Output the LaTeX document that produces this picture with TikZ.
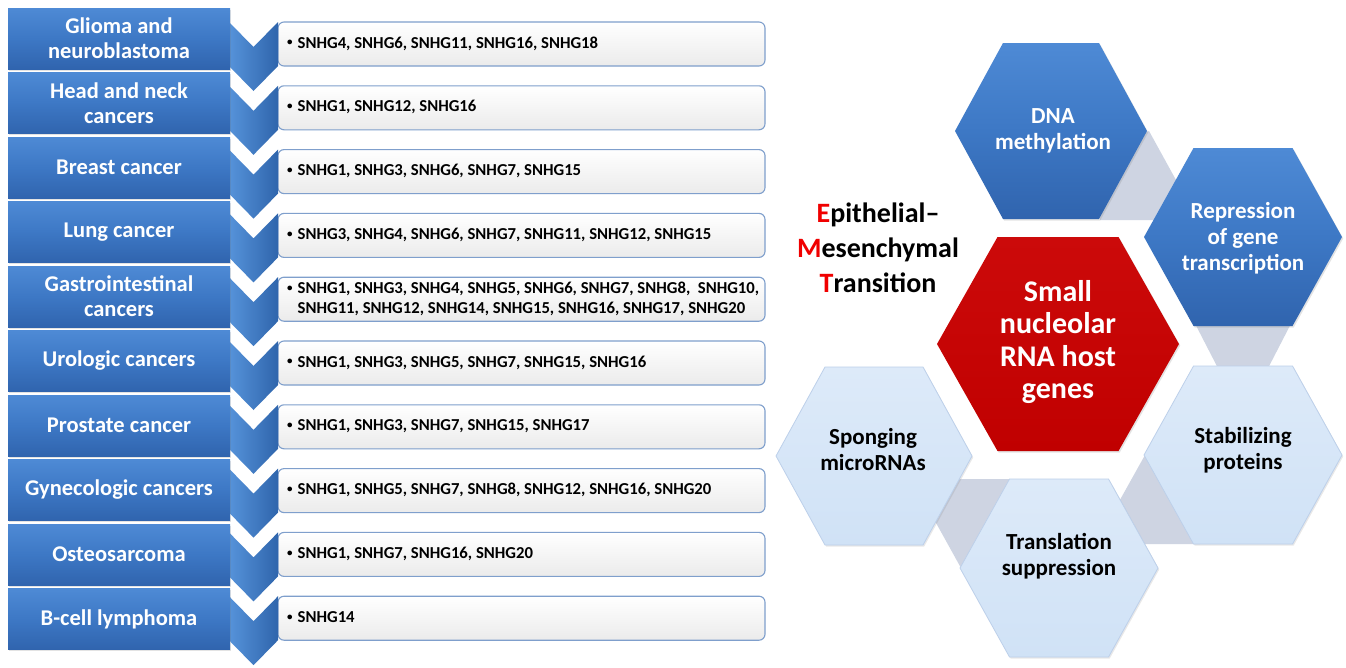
\documentclass[tikz,border=0pt]{standalone}
\usepackage{fontspec}
\setmainfont{Carlito}
\usetikzlibrary{shadows}
\definecolor{bluetop}{HTML}{4E8AD5}
\definecolor{bluemid}{HTML}{3D78C5}
\definecolor{bluebot}{HTML}{3064AE}
\definecolor{chevl}{HTML}{5693DA}
\definecolor{chevr}{HTML}{2F65AC}
\definecolor{boxbot}{HTML}{EBEBEB}
\definecolor{boxedge}{HTML}{7F9FCC}
\definecolor{redhex}{HTML}{C00000}
\definecolor{redtop}{HTML}{CC0A0A}
\definecolor{lighttop}{HTML}{DDEAF9}
\definecolor{lightbot}{HTML}{D0E2F6}
\definecolor{lightedge}{HTML}{BDD0EA}
\definecolor{grayconn}{HTML}{CED4E2}
\definecolor{emtred}{HTML}{F00000}
\newcommand{\hexa}[5]{%
  \path[#1] ({#2-#4},#3) -- ({#2-#4/2},{#3-#5}) -- ({#2+#4/2},{#3-#5}) -- ({#2+#4},#3) -- ({#2+#4/2},{#3+#5}) -- ({#2-#4/2},{#3+#5}) -- cycle;}
\newcommand{\smallbullet}{\raisebox{2.2pt}{\fontsize{11}{11}\selectfont\textbullet}\hspace{5pt}}
\begin{document}
\begin{tikzpicture}[x=1pt,y=-1pt,
  rectbox/.style={top color=bluetop, bottom color=bluebot, middle color=bluemid,
    drop shadow={shadow xshift=1.2pt, shadow yshift=-1.5pt, opacity=.22}},
  chev/.style={left color=chevl, right color=chevr},
  listbox/.style={rounded corners=6pt, top color=white, bottom color=boxbot, draw=boxedge, line width=1.1pt},
  lab/.style={text=white, font=\fontsize{22.5}{25}\selectfont\bfseries, align=center, inner sep=0pt},
  lst/.style={anchor=west, inner sep=0pt, font=\fontsize{16.7}{20}\selectfont\bfseries},
  hexblue/.style={top color=bluetop, bottom color=bluebot, middle color=bluemid,
    drop shadow={shadow xshift=1.2pt, shadow yshift=-1.5pt, opacity=.22}},
  hexred/.style={top color=redtop, bottom color=redhex,
    drop shadow={shadow xshift=1.2pt, shadow yshift=-1.5pt, opacity=.22}},
  hexlight/.style={top color=lighttop, bottom color=lightbot, draw=lightedge, line width=0.8pt,
    drop shadow={shadow xshift=1.2pt, shadow yshift=-1.5pt, opacity=.18}},
  conn/.style={fill=grayconn},
  hexw/.style={text=white, font=\fontsize{23}{26}\selectfont\bfseries, align=center, inner sep=0pt},
  hexk/.style={text=black, font=\fontsize{23}{26}\selectfont\bfseries, align=center, inner sep=0pt},
  hexr/.style={text=white, font=\fontsize{30}{32.5}\selectfont\bfseries, align=center, inner sep=0pt},
  emt/.style={text=black, font=\fontsize{28}{35}\selectfont\bfseries, align=center, inner sep=0pt}]
\useasboundingbox (0,0) rectangle (1346,667);
\fill[white] (0,0) rectangle (1346,667);

% ---------- left list ----------
\foreach \i/\lab/\lst in {
0/{Glioma and\\neuroblastoma}/{SNHG4, SNHG6, SNHG11, SNHG16, SNHG18},
1/{Head and neck\\cancers}/{SNHG1, SNHG12, SNHG16},
2/{Breast cancer}/{SNHG1, SNHG3, SNHG6, SNHG7, SNHG15},
3/{Lung cancer}/{SNHG3, SNHG4, SNHG6, SNHG7, SNHG11, SNHG12, SNHG15},
4/{Gastrointestinal\\cancers}/{SNHG1, SNHG3, SNHG4, SNHG5, SNHG6, SNHG7, SNHG8,\ \ SNHG10,\\SNHG11, SNHG12, SNHG14, SNHG15, SNHG16, SNHG17, SNHG20},
5/{Urologic cancers}/{SNHG1, SNHG3, SNHG5, SNHG7, SNHG15, SNHG16},
6/{Prostate cancer}/{SNHG1, SNHG3, SNHG7, SNHG15, SNHG17},
7/{Gynecologic cancers}/{SNHG1, SNHG5, SNHG7, SNHG8, SNHG12, SNHG16, SNHG20},
8/{Osteosarcoma}/{SNHG1, SNHG7, SNHG16, SNHG20},
9/{B-cell lymphoma}/{SNHG14}}{
  \pgfmathsetmacro\rt{8+64.5*\i}
  \pgfmathsetmacro\bt{22+63.8*\i}
  \path[listbox] (278,\bt) rectangle (765,{\bt+44});
  \path[chev] (229,\bt) -- (253.5,{\bt+25}) -- (278,\bt) -- (278,{\bt+44}) -- (253.5,{\bt+69}) -- (229,{\bt+44}) -- cycle;
  \path[rectbox] (8,\rt) rectangle (230,{\rt+61});
  \node[lab] (lab\i) at (119,{\rt+30.5}) {\lab};
  \node[lst] (lst\i) at (287,{\bt+22}) {\smallbullet\begin{tabular}[t]{@{}l@{}}\lst\end{tabular}};
}

% ---------- connectors behind hexagons ----------
\path[conn] (1149,131) -- (1198,220) -- (1100,220) -- (1105,150) -- cycle;
\path[conn] (1188,310) -- (1298,310) -- (1264.5,375) -- (1221.5,375) -- cycle;
\path[conn] (940,479) -- (1012,479) -- (1030,500) -- (1040,560) -- (961,568) -- (925,503) -- cycle;
\path[conn] (1145,455) -- (1116,507) -- (1116,544) -- (1200,544) -- (1200,470) -- cycle;

% ---------- hexagons ----------
\hexa{hexblue}{1051}{131}{96}{88}
\hexa{hexblue}{1243}{237}{99}{89}
\hexa{hexred}{1058}{344}{121}{107}
\hexa{hexlight}{874}{456}{98}{89}
\hexa{hexlight}{1243}{455}{99}{89}
\hexa{hexlight}{1059}{568}{99}{89}

\node[hexw] (dna) at (1053,131) {DNA\\methylation};
\node[hexw] (rep) at (1243,238) {Repression\\of gene\\transcription};
\node[hexr] (snhg) at (1058,342) {Small\\nucleolar\\RNA host\\genes};
\node[hexk] (spo) at (873,450) {Sponging\\microRNAs};
\node[hexk] (sta) at (1243,450) {Stabilizing\\proteins};
\node[hexk] (tra) at (1059,556) {Translation\\suppression};

\node[emt] (emt) at (878,248) {{\color{emtred}E}pithelial–\\{\color{emtred}M}esenchymal\\{\color{emtred}T}ransition};
\end{tikzpicture}
\end{document}
